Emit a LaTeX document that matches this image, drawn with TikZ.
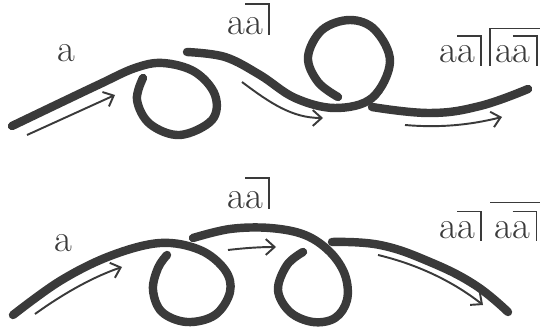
\documentclass[tikz,border=0pt]{standalone}
\usetikzlibrary{arrows.meta}
\definecolor{ink}{RGB}{58,58,58}
\newlength{\barw}\setlength{\barw}{0.75pt}
% a with overline and right bar; #1 = gap above the letter, #2 = depth of the bar
\newcommand{\angr}[3]{\mbox{\vbox{\hrule height\barw\kern#1\hbox{#3\kern3.2pt}}\vrule width\barw depth#2}}
\newcommand{\angl}[2]{\mbox{\vrule width\barw depth1.6pt\vbox{\hrule height\barw\kern#1\hbox{\kern2.6pt#2}}}}
\newcommand{\ovl}[2]{\mbox{\vbox{\hrule height\barw\kern#1\hbox{#2}}}}
\tikzset{
  strand/.style={line width=4.8pt, line cap=round, ink},
  flow/.style={line width=1.1pt, ink, -{Straight Barb[length=5pt,width=9pt,line width=1.1pt]}},
  lab/.style={inner sep=0pt, anchor=base, text=ink, font=\fontsize{22}{26}\selectfont},
}
\begin{document}
\begin{tikzpicture}[x=0.02cm,y=-0.02cm]
\useasboundingbox (0,0) rectangle (540,327);
% ---- top row ----
\draw[strand] plot[smooth, tension=0.6] coordinates {(12,126) (60,103) (100,84) (135,68) (163,63) (195,72) (215,95) (212,120) (180,135) (150,124) (137,100) (143,78)};
\draw[strand] plot[smooth, tension=0.6] coordinates {(187,52) (225,57) (260,75) (295,98) (335,108) (372,98) (390,62) (375,30) (350,20) (322,30) (308,57) (318,82) (338,97)};
\draw[strand] plot[smooth, tension=0.7] coordinates {(372,107) (430,113) (480,106) (528,89)};
\coordinate (t1a) at (27,135); \coordinate (t1b) at (115,95);
\coordinate (t2a) at (242,82); \coordinate (t2b) at (323,118);
\coordinate (t3a) at (405,125); \coordinate (t3b) at (502,117);
\draw[flow] (t1a) -- (t1b);
\draw[flow] (t2a) .. controls (270,103) and (292,118) .. (t2b);
\draw[flow] (t3a) .. controls (440,128) and (470,125) .. (t3b);
\node[lab] (la1) at (66,62) {a};
\node[lab, anchor=base west] (la2) at (227,35) {a\angr{7.6pt}{0pt}{a}};
\node[lab, anchor=base west] (la3) at (439,63) {a\angr{5.2pt}{1.6pt}{a}\kern4.3pt\angl{3.4pt}{a\angr{5.2pt}{1.6pt}{a}\kern5pt}};
% ---- bottom row ----
\draw[strand] plot[smooth, tension=0.6] coordinates {(13,315) (60,281) (110,256) (160,243) (200,250) (225,270) (230,292) (215,315) (187,322) (162,312) (153,290) (158,268) (167,255)};
\draw[strand] plot[smooth, tension=0.6] coordinates {(193,238) (230,229) (270,228) (305,235) (330,252) (345,275) (347,300) (335,318) (313,322) (290,312) (278,290) (287,265) (303,252)};
\draw[strand] plot[smooth, tension=0.7] coordinates {(332,242) (380,245) (430,262) (475,285) (508,312)};
\coordinate (b1a) at (35,314); \coordinate (b1b) at (122,267);
\coordinate (b2a) at (228,250); \coordinate (b2b) at (276,247);
\coordinate (b3a) at (378,255); \coordinate (b3b) at (483,305);
\draw[flow] (b1a) .. controls (60,296) and (90,278) .. (b1b);
\draw[flow] (b2a) .. controls (245,248) and (260,247) .. (b2b);
\draw[flow] (b3a) .. controls (420,265) and (455,283) .. (b3b);
\node[lab] (lb1) at (63,252) {a};
\node[lab, anchor=base west] (lb2) at (227,209) {a\angr{7.6pt}{0pt}{a}};
\node[lab, anchor=base west] (lb3) at (439,238) {a\angr{5pt}{1.6pt}{a}\kern4.8pt\ovl{4.2pt}{\kern2.6pt a\angr{5pt}{1.6pt}{a}\kern5pt}};
\end{tikzpicture}
\end{document}
